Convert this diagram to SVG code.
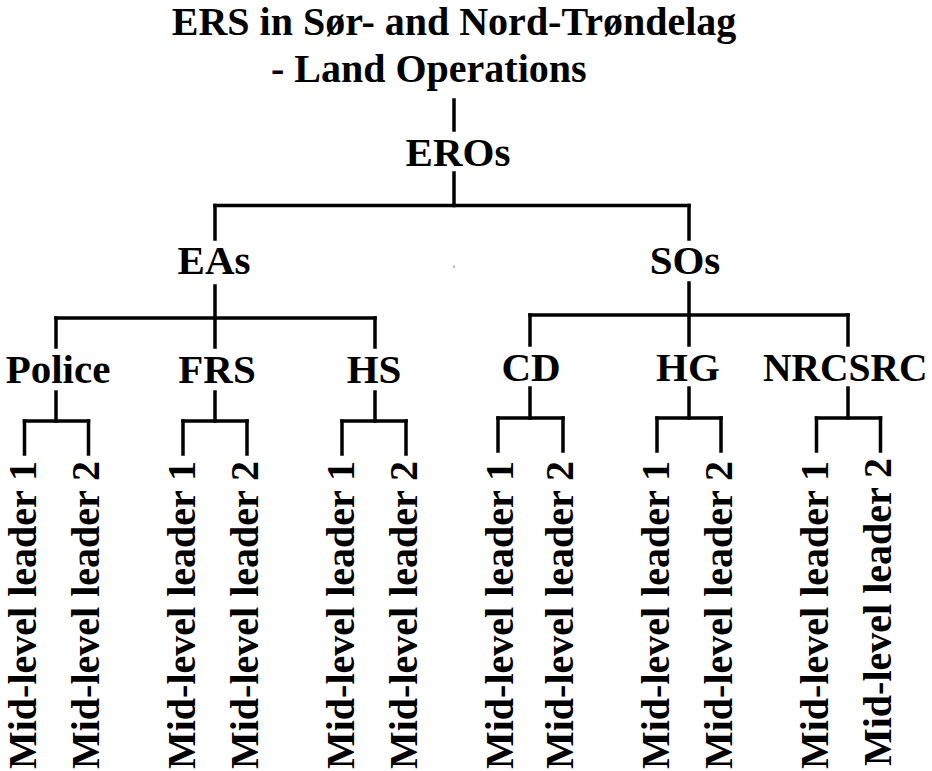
<svg xmlns="http://www.w3.org/2000/svg" width="932" height="771" viewBox="0 0 932 771">
<style>
  text { font-family: 'Liberation Serif', 'DejaVu Serif', serif; font-weight: bold; font-size: 41px; fill: #000; }
  .c { text-anchor: middle; }
  .t { font-size: 40px; }
  .leaf { font-size: 40px; }
  .conn line { stroke: #000; stroke-width: 3.5; stroke-linecap: square; }
</style>
<rect width="932" height="771" fill="#fff"/>
<g id="title">
  <text x="454" y="35" class="c t">ERS in Sør- and Nord-Trøndelag</text>
  <text x="271" y="82" class="t">- Land Operations</text>
</g>
<g class="conn" id="connectors">
  <line x1="454" y1="100" x2="454" y2="130"/>
  <line x1="454" y1="173" x2="454" y2="205.5"/>
  <line x1="215" y1="205.5" x2="689" y2="205.5"/>
  <line x1="215" y1="205.5" x2="215" y2="239"/>
  <line x1="689" y1="205.5" x2="689" y2="239"/>
  <line x1="215" y1="286" x2="215" y2="318"/>
  <line x1="56" y1="318" x2="375" y2="318"/>
  <line x1="56" y1="318" x2="56" y2="347"/>
  <line x1="215" y1="318" x2="215" y2="347"/>
  <line x1="375" y1="318" x2="375" y2="347"/>
  <line x1="689" y1="283" x2="689" y2="315"/>
  <line x1="530" y1="315" x2="848" y2="315"/>
  <line x1="530" y1="315" x2="530" y2="345"/>
  <line x1="689" y1="315" x2="689" y2="345"/>
  <line x1="848" y1="315" x2="848" y2="345"/>
  <line x1="56" y1="392" x2="56" y2="421"/>
  <line x1="24.5" y1="421" x2="88.5" y2="421"/>
  <line x1="24.5" y1="421" x2="24.5" y2="454"/>
  <line x1="88.5" y1="421" x2="88.5" y2="454"/>
  <line x1="215" y1="392" x2="215" y2="421"/>
  <line x1="183" y1="421" x2="247" y2="421"/>
  <line x1="183" y1="421" x2="183" y2="454"/>
  <line x1="247" y1="421" x2="247" y2="454"/>
  <line x1="375" y1="392" x2="375" y2="421"/>
  <line x1="342" y1="421" x2="406" y2="421"/>
  <line x1="342" y1="421" x2="342" y2="454"/>
  <line x1="406" y1="421" x2="406" y2="454"/>
  <line x1="530" y1="388" x2="530" y2="418"/>
  <line x1="498" y1="418" x2="563" y2="418"/>
  <line x1="498" y1="418" x2="498" y2="451"/>
  <line x1="563" y1="418" x2="563" y2="451"/>
  <line x1="689" y1="388" x2="689" y2="418"/>
  <line x1="657" y1="418" x2="721" y2="418"/>
  <line x1="657" y1="418" x2="657" y2="451"/>
  <line x1="721" y1="418" x2="721" y2="451"/>
  <line x1="848" y1="388" x2="848" y2="418"/>
  <line x1="816.5" y1="418" x2="880.5" y2="418"/>
  <line x1="816.5" y1="418" x2="816.5" y2="451"/>
  <line x1="880.5" y1="418" x2="880.5" y2="451"/>
</g>
<rect x="453" y="265.5" width="2" height="2.5" fill="#bbb"/>
<g id="EROs"><text x="458" y="166" class="c">EROs</text></g>
<g id="EAs"><text x="214" y="274" class="c">EAs</text></g>
<g id="SOs"><text x="685" y="274" class="c">SOs</text></g>
<g id="Police"><text x="58" y="383" class="c">Police</text></g>
<g id="FRS"><text x="217" y="383" class="c">FRS</text></g>
<g id="HS"><text x="374" y="383" class="c">HS</text></g>
<g id="CD"><text x="531" y="381" class="c">CD</text></g>
<g id="HG"><text x="688" y="381" class="c">HG</text></g>
<g id="NRCSRC"><text x="763" y="381" style="font-size:39.5px">NRCSRC</text></g>
<g id="Police-1"><text class="leaf" transform="translate(36,769) rotate(-90)">Mid-level leader 1</text></g>
<g id="Police-2"><text class="leaf" transform="translate(99,769) rotate(-90)">Mid-level leader 2</text></g>
<g id="FRS-1"><text class="leaf" transform="translate(195,769) rotate(-90)">Mid-level leader 1</text></g>
<g id="FRS-2"><text class="leaf" transform="translate(258,769) rotate(-90)">Mid-level leader 2</text></g>
<g id="HS-1"><text class="leaf" transform="translate(354,769) rotate(-90)">Mid-level leader 1</text></g>
<g id="HS-2"><text class="leaf" transform="translate(417,769) rotate(-90)">Mid-level leader 2</text></g>
<g id="CD-1"><text class="leaf" transform="translate(513,769) rotate(-90)">Mid-level leader 1</text></g>
<g id="CD-2"><text class="leaf" transform="translate(573,769) rotate(-90)">Mid-level leader 2</text></g>
<g id="HG-1"><text class="leaf" transform="translate(669,769) rotate(-90)">Mid-level leader 1</text></g>
<g id="HG-2"><text class="leaf" transform="translate(732,769) rotate(-90)">Mid-level leader 2</text></g>
<g id="NRCSRC-1"><text class="leaf" transform="translate(828,769) rotate(-90)">Mid-level leader 1</text></g>
<g id="NRCSRC-2"><text class="leaf" transform="translate(891,766) rotate(-90)">Mid-level leader 2</text></g>
</svg>
